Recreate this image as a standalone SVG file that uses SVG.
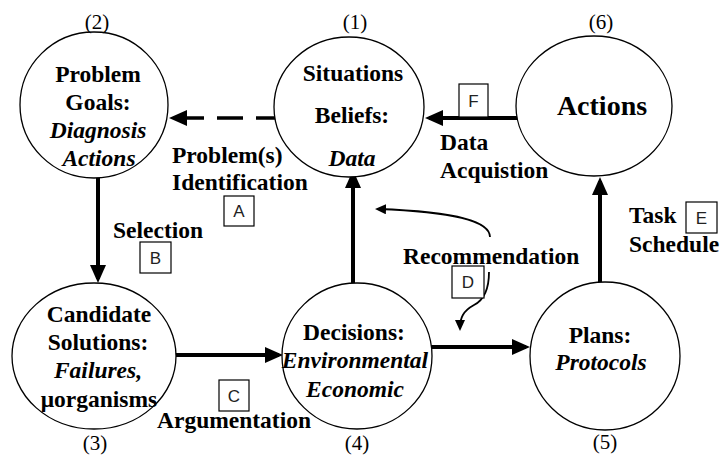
<svg xmlns="http://www.w3.org/2000/svg" width="722" height="459" viewBox="0 0 722 459">
<defs>
<style>
.bg{fill:#fff}
.node{fill:#fff;stroke:#000;stroke-width:1.3}
.t{font-family:"Liberation Serif","Times New Roman",serif;font-weight:bold;font-size:23.5px;fill:#000}
.c{text-anchor:middle}
.i{font-style:italic}
.num{font-family:"Liberation Serif","Times New Roman",serif;font-size:21px;fill:#000;text-anchor:middle}
.box{fill:#fff;stroke:#000;stroke-width:1.2}
.bl{font-family:"Liberation Sans",Arial,sans-serif;font-size:17px;fill:#222;text-anchor:middle}
.thick{fill:none;stroke:#000;stroke-width:4}
.dash{fill:none;stroke:#000;stroke-width:3.5;stroke-dasharray:26 13}
.thin{fill:none;stroke:#000;stroke-width:1.8}
</style>
<marker id="ah" markerUnits="userSpaceOnUse" markerWidth="18" markerHeight="16" refX="14" refY="8" orient="auto">
<path d="M0,0 L18,8 L0,16 z" fill="#000"/>
</marker>
<marker id="ahs" markerUnits="userSpaceOnUse" markerWidth="11" markerHeight="10" refX="8" refY="5" orient="auto">
<path d="M0,0 L11,5 L0,10 z" fill="#000"/>
</marker>
</defs>
<rect class="bg" x="0" y="0" width="722" height="459"/>

<g id="connectors">
<path class="dash" d="M282,118 L173,118" marker-end="url(#ah)"/>
<path class="thick" d="M530,118 L429,118" marker-end="url(#ah)"/>
<path class="thick" d="M353,283 L353,174" marker-end="url(#ah)"/>
<path class="thick" d="M98,178 L98,279" marker-end="url(#ah)"/>
<path class="thick" d="M169,355 L279,355" marker-end="url(#ah)"/>
<path class="thick" d="M423,347 L526,347" marker-end="url(#ah)"/>
<path class="thick" d="M600,282 L600,181" marker-end="url(#ah)"/>
<path class="thin" d="M490,237 C490,222 460,212 378,209" marker-end="url(#ahs)"/>
<path class="thin" d="M489,272 C489,290 484,300 474,305 C463,311 460,318 460,328" marker-end="url(#ahs)"/>
</g>

<g id="node1">
<ellipse class="node" cx="349" cy="107" rx="75" ry="70"/>
<text class="num" x="355" y="29">(1)</text>
<text class="t c" x="353" y="81">Situations</text>
<text class="t c" x="352" y="123">Beliefs:</text>
<text class="t c i" x="352" y="166">Data</text>
</g>

<g id="node2">
<ellipse class="node" cx="94" cy="105" rx="74" ry="73"/>
<text class="num" x="97" y="29">(2)</text>
<text class="t c" x="98" y="82">Problem</text>
<text class="t c" x="98" y="110">Goals:</text>
<text class="t c i" x="98" y="138">Diagnosis</text>
<text class="t c i" x="99" y="166">Actions</text>
</g>

<g id="node3">
<ellipse class="node" cx="94" cy="356" rx="82" ry="73"/>
<text class="num" x="95" y="450">(3)</text>
<text class="t c" x="99" y="322">Candidate</text>
<text class="t c" x="98" y="350">Solutions:</text>
<text class="t c i" x="98" y="378">Failures,</text>
<text class="t c" x="99" y="407">μorganisms</text>
</g>

<g id="node4">
<ellipse class="node" cx="357" cy="356" rx="75" ry="73"/>
<text class="num" x="357" y="450">(4)</text>
<text class="t c" x="354" y="340">Decisions:</text>
<text class="t c i" x="355" y="368">Environmental</text>
<text class="t c i" x="355" y="397">Economic</text>
</g>

<g id="node5">
<ellipse class="node" cx="605" cy="356" rx="75" ry="74"/>
<text class="num" x="605" y="449">(5)</text>
<text class="t c" x="600" y="343">Plans:</text>
<text class="t c i" x="601" y="370">Protocols</text>
</g>

<g id="node6">
<ellipse class="node" cx="594" cy="106" rx="78" ry="70"/>
<text class="num" x="601" y="29">(6)</text>
<text class="t c" x="602" y="115" style="font-size:28px">Actions</text>
</g>

<g id="labels">
<text class="t" x="172" y="163">Problem(s)</text>
<text class="t" x="172" y="190">Identification</text>
<rect class="box" x="224" y="196" width="30" height="30"/>
<text class="bl" x="239" y="217">A</text>

<text class="t" x="113" y="238">Selection</text>
<rect class="box" x="140" y="242" width="31" height="31"/>
<text class="bl" x="155.5" y="264">B</text>

<text class="t" x="157" y="428">Argumentation</text>
<rect class="box" x="219" y="380" width="30" height="31"/>
<text class="bl" x="234" y="402">C</text>

<text class="t" x="403" y="264">Recommendation</text>
<rect class="box" x="452" y="266" width="32" height="32"/>
<text class="bl" x="468" y="288">D</text>

<text class="t" x="629" y="223">Task</text>
<text class="t" x="629" y="252">Schedule</text>
<rect class="box" x="686" y="202" width="31" height="31"/>
<text class="bl" x="701.5" y="224">E</text>

<text class="t" x="440" y="150">Data</text>
<text class="t" x="440" y="178">Acquistion</text>
<rect class="box" x="459" y="84" width="29" height="33"/>
<text class="bl" x="473.5" y="107">F</text>
</g>
</svg>
